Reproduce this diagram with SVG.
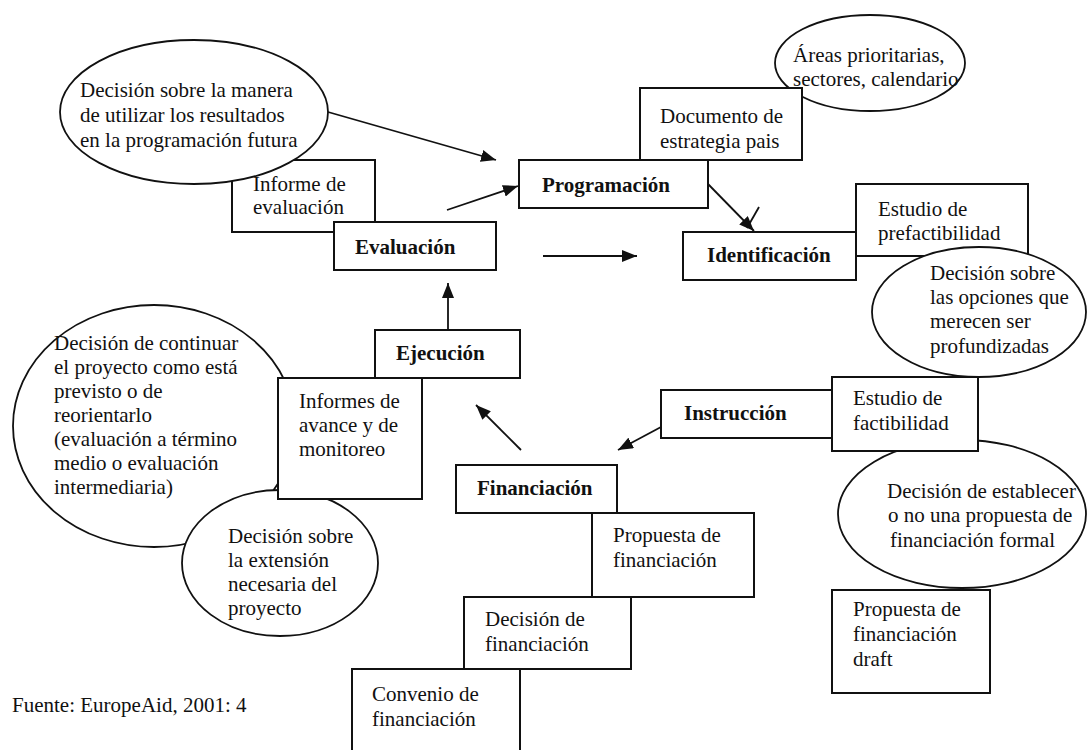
<svg xmlns="http://www.w3.org/2000/svg" width="1089" height="750" viewBox="0 0 1089 750">
<style>
.bx{fill:#fff;stroke:#111;stroke-width:2}
.el{fill:#fff;stroke:#111;stroke-width:1.8}
text{font-family:"Liberation Serif","Times New Roman",serif;font-size:21px;fill:#111}
.b{font-weight:bold}
.cn{stroke:#111;stroke-width:1.8;fill:none}
</style>
<defs>
<marker id="ah" markerUnits="userSpaceOnUse" markerWidth="16" markerHeight="12" refX="15" refY="6" orient="auto">
<path d="M0,0 L15,6 L0,12 z" fill="#111"/>
</marker>
</defs>
<rect width="1089" height="750" fill="#fff"/>

<g id="informe-evaluacion"><rect class="bx" x="232" y="160" width="143" height="72"/>
<text x="253" y="191">Informe de</text><text x="253" y="214">evaluación</text></g>
<g id="decision-resultados"><ellipse class="el" cx="194" cy="112" rx="134" ry="72"/>
<text x="80" y="97">Decisión sobre la manera</text><text x="80" y="122">de utilizar los resultados</text><text x="80" y="147">en la programación futura</text></g>
<g id="evaluacion"><rect class="bx" x="334" y="222" width="162" height="48"/><text class="b" x="355" y="254">Evaluación</text></g>

<g id="areas"><ellipse class="el" cx="870" cy="63" rx="95" ry="48"/>
<text x="793" y="62">Áreas prioritarias,</text><text x="793" y="86">sectores, calendario</text></g>
<g id="documento"><rect class="bx" x="640" y="88" width="162" height="72"/>
<text x="660" y="123">Documento de</text><text x="660" y="148">estrategia pais</text></g>
<g id="programacion"><rect class="bx" x="519" y="160" width="189" height="48"/><text class="b" x="542" y="192">Programación</text></g>

<g id="prefactibilidad"><rect class="bx" x="856" y="184" width="172" height="72"/>
<text x="878" y="216">Estudio de</text><text x="878" y="240">prefactibilidad</text></g>
<g id="identificacion"><rect class="bx" x="683" y="232" width="173" height="48"/><text class="b" x="707" y="262">Identificación</text></g>
<g id="decision-opciones"><ellipse class="el" cx="979" cy="312" rx="107" ry="65"/>
<text x="930" y="280">Decisión sobre</text><text x="930" y="304">las opciones que</text><text x="930" y="328">merecen ser</text><text x="930" y="353">profundizadas</text></g>

<g id="decision-establecer"><ellipse class="el" cx="962" cy="514" rx="124" ry="74"/>
<text x="887" y="498">Decisión de establecer</text><text x="888" y="522">o no una propuesta de</text><text x="890" y="547">financiación formal</text></g>
<g id="factibilidad"><rect class="bx" x="832" y="377" width="146" height="74"/>
<text x="853" y="405">Estudio de</text><text x="853" y="430">factibilidad</text></g>
<g id="instruccion"><rect class="bx" x="661" y="390" width="171" height="48"/><text class="b" x="684" y="420">Instrucción</text></g>
<g id="propuesta-draft"><rect class="bx" x="832" y="590" width="158" height="103"/>
<text x="853" y="616">Propuesta de</text><text x="853" y="641">financiación</text><text x="853" y="666">draft</text></g>

<g id="decision-continuar"><ellipse class="el" cx="154" cy="426" rx="141" ry="121"/>
<text x="54" y="350">Decisión de continuar</text><text x="54" y="374">el proyecto como está</text><text x="54" y="398">previsto o de</text><text x="54" y="422">reorientarlo</text><text x="54" y="446">(evaluación a término</text><text x="54" y="470">medio o evaluación</text><text x="54" y="494">intermediaria)</text></g>
<g id="decision-extension"><ellipse class="el" cx="280" cy="563" rx="98" ry="73"/>
<text x="228" y="543">Decisión sobre</text><text x="228" y="567">la extensión</text><text x="228" y="591">necesaria del</text><text x="228" y="615">proyecto</text></g>
<g id="informes-avance"><rect class="bx" x="278" y="378" width="144" height="121"/>
<text x="299" y="408">Informes de</text><text x="299" y="432">avance y de</text><text x="299" y="456">monitoreo</text></g>
<g id="ejecucion"><rect class="bx" x="375" y="330" width="145" height="48"/><text class="b" x="396" y="360">Ejecución</text></g>

<g id="financiacion"><rect class="bx" x="456" y="465" width="161" height="48"/><text class="b" x="477" y="495">Financiación</text></g>
<g id="propuesta"><rect class="bx" x="592" y="513" width="162" height="84"/>
<text x="613" y="542">Propuesta de</text><text x="613" y="567">financiación</text></g>
<g id="decision-financiacion"><rect class="bx" x="464" y="597" width="167" height="72"/>
<text x="485" y="626">Decisión de</text><text x="485" y="651">financiación</text></g>
<g id="convenio"><rect class="bx" x="352" y="669" width="168" height="100"/>
<text x="372" y="701">Convenio de</text><text x="372" y="726">financiación</text></g>

<g id="connectors">
<line class="cn" x1="328" y1="112" x2="496" y2="160" marker-end="url(#ah)"/>
<line class="cn" x1="447" y1="210" x2="518" y2="186" marker-end="url(#ah)"/>
<line class="cn" x1="708" y1="184" x2="754" y2="231" marker-end="url(#ah)"/>
<line class="cn" x1="747" y1="228" x2="759" y2="207"/>
<line class="cn" x1="543" y1="256" x2="637" y2="256" marker-end="url(#ah)"/>
<line class="cn" x1="661" y1="427" x2="618" y2="450" marker-end="url(#ah)"/>
<line class="cn" x1="521" y1="450" x2="476" y2="405" marker-end="url(#ah)"/>
<line class="cn" x1="448" y1="330" x2="448" y2="283" marker-end="url(#ah)"/>
</g>

<text id="fuente" x="12" y="712">Fuente: EuropeAid, 2001: 4</text>
</svg>
